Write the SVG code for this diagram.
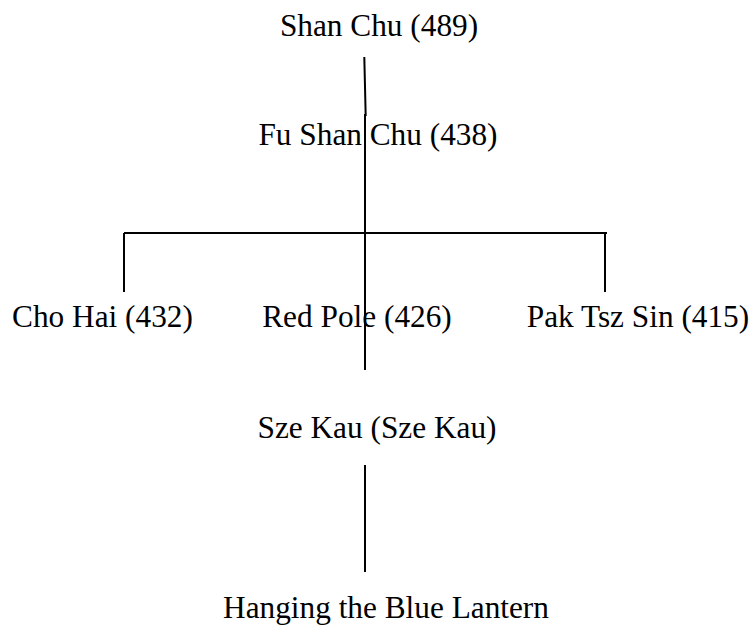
<svg xmlns="http://www.w3.org/2000/svg" width="756" height="631" viewBox="0 0 756 631">
  <style>
    .lbl { font-family: 'Liberation Serif', 'Times New Roman', Times, serif; font-size: 31.3px; fill: #000; text-anchor: middle; }
    .ln { stroke: #000; stroke-width: 2; fill: none; }
  </style>
  <rect width="756" height="631" fill="#fff"/>
  <g id="connectors">
    <line class="ln" x1="364.3" y1="57" x2="365.7" y2="116"/>
    <line class="ln" x1="365" y1="114" x2="365" y2="370"/>
    <line class="ln" x1="124" y1="233" x2="607" y2="233"/>
    <line class="ln" x1="124" y1="233" x2="124" y2="292"/>
    <line class="ln" x1="605" y1="233" x2="605" y2="292"/>
    <line class="ln" x1="365" y1="465" x2="365" y2="572"/>
  </g>
  <g id="shan-chu"><text class="lbl" x="379" y="35.5">Shan Chu (489)</text></g>
  <g id="fu-shan-chu"><text class="lbl" x="378" y="145">Fu Shan Chu (438)</text></g>
  <g id="cho-hai"><text class="lbl" x="102.5" y="327">Cho Hai (432)</text></g>
  <g id="red-pole"><text class="lbl" x="357" y="327">Red Pole (426)</text></g>
  <g id="pak-tsz-sin"><text class="lbl" x="638" y="327">Pak Tsz Sin (415)</text></g>
  <g id="sze-kau"><text class="lbl" x="377" y="438">Sze Kau (Sze Kau)</text></g>
  <g id="blue-lantern"><text class="lbl" x="386" y="618">Hanging the Blue Lantern</text></g>
</svg>
